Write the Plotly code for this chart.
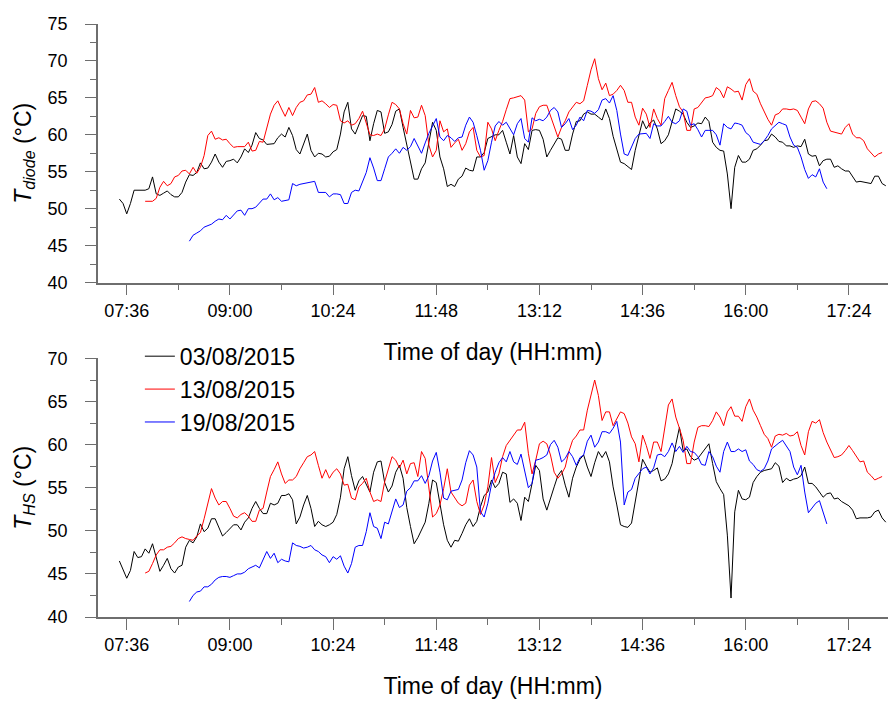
import pandas as pd
import plotly.graph_objects as go

# ---------------- data ----------------
series_names = ["03/08/2015", "13/08/2015", "19/08/2015"]
series_colors = ["#000000", "#ff0000", "#0000ff"]
series_starts = ["07:30", "07:51", "08:27"]   # first logged sample (time of day)
sample_step = "3min"
ref_day = "2015-08-03"                        # common day used for the time-of-day axis
time_tick_labels = ["07:36", "09:00", "10:24", "11:48", "13:12", "14:36", "16:00", "17:24"]

diode_0308 = [
    51.3, 50.7, 49.3, 50.7, 52.5, 52.5, 52.4, 52.5, 52.7, 54.3,
    52.0, 51.8, 52.1, 52.4, 51.9, 51.6, 51.6, 52.2, 53.6, 54.6,
    54.5, 54.9, 56.2, 55.4, 55.5, 56.3, 57.4, 56.3, 55.6, 56.4,
    56.5, 56.7, 56.2, 57.0, 58.1, 57.6, 58.6, 60.3, 59.5, 59.3,
    58.7, 58.7, 58.8, 59.6, 60.1, 59.7, 61.0,
    59.9, 58.0, 57.4, 58.8, 60.1, 57.9, 57.0, 57.5, 57.4, 57.0,
    57.1, 57.7, 58.0, 60.1, 63.1, 64.4, 60.8, 60.1, 61.4, 62.6,
    62.5, 59.2, 61.5, 63.3, 63.1, 60.2, 60.4, 61.4, 63.2, 63.5,
    61.0, 58.6, 56.3, 54.0, 54.0, 55.4, 56.2, 58.7, 61.7, 60.6,
    57.0, 55.4, 53.0, 53.3, 53.0, 54.0, 54.4, 55.5, 55.2, 55.1,
    57.0, 57.0, 57.6, 59.5, 59.8,
    60.0, 60.0, 60.6, 59.0, 57.4, 59.9, 57.0, 56.1, 58.8, 58.0,
    60.6, 60.7, 60.6, 59.4, 57.0, 57.9, 58.8, 59.6, 59.4, 57.9,
    57.9, 60.1, 61.8, 61.9, 62.8, 63.1, 62.8, 62.8, 62.4, 62.0,
    63.5, 62.2, 59.8, 57.9, 56.3, 56.1, 55.7, 55.3, 57.9, 59.9,
    61.9, 60.8, 61.6, 62.0, 60.8, 58.8, 59.2, 60.0, 61.6, 63.5,
    63.2, 62.8, 61.7, 61.0, 61.2, 61.6,
    61.5, 62.4, 61.8, 59.0, 58.3, 57.9, 57.8, 54.7, 50.0, 55.6,
    57.2, 56.3, 56.3, 56.7, 57.9, 58.1, 58.6, 59.2, 59.3, 60.1,
    59.7, 59.1, 59.0, 58.5, 58.5, 58.3, 58.5, 58.4, 59.4, 57.4,
    57.1, 57.2, 55.8, 56.5, 56.7, 56.7, 55.6, 55.8, 55.4, 55.1,
    55.1, 54.4, 53.6, 53.7, 53.6, 53.4, 53.4, 54.4, 54.4, 53.4,
    53.1,
]
diode_1308 = [
    51.0, 51.0, 51.0, 51.4, 52.9, 53.7, 53.1, 53.4, 54.3, 54.5,
    55.1, 55.2, 54.7, 55.6, 54.8, 55.6, 57.2, 59.9, 60.5, 59.4,
    59.6, 59.3, 59.4, 58.8, 58.3, 58.4, 58.4, 58.4, 59.0, 57.8,
    57.9, 59.1, 59.0, 61.0, 62.8, 64.0, 64.6, 63.5, 62.5, 63.7,
    62.6, 63.7, 64.4, 64.6, 65.4, 65.5, 66.4, 64.4, 64.6, 64.2,
    63.7, 64.1, 64.0, 61.9, 61.6, 61.9, 61.3, 61.5, 62.2, 63.2,
    61.5, 60.0, 59.9, 60.1, 59.9, 60.8, 62.7, 64.4, 64.1, 63.5,
    61.5, 60.1, 63.3, 62.3, 62.4, 64.0, 62.6, 58.6, 57.0, 57.9,
    61.9, 60.4, 60.8, 58.3, 58.9, 59.4, 57.9, 58.8, 60.4, 61.0,
    57.9, 57.0, 57.2, 61.7, 60.8,
    59.2, 60.6, 61.8, 63.4, 64.9, 65.0, 65.2, 65.3, 64.7, 60.4,
    60.8, 62.9, 63.8, 64.0, 64.0, 62.5, 61.3, 59.7, 61.0, 61.9,
    63.1, 63.7, 64.4, 64.2, 64.6, 66.7, 68.8, 70.3, 67.6, 66.1,
    67.0, 65.3, 65.5, 66.0, 66.7, 66.0, 64.4, 64.4, 62.4, 61.3,
    63.6, 62.8, 61.0, 63.5, 62.2, 61.3, 64.9, 66.0, 67.1, 65.3,
    63.8, 63.1, 60.6, 60.6, 63.5, 63.7,
    64.4, 65.0, 65.1, 65.3, 66.4, 66.0, 65.0, 66.5, 66.2, 65.8,
    65.9, 64.7, 66.8, 67.6, 65.9, 65.5, 64.2, 63.1, 62.1, 61.3,
    62.7, 62.9, 63.5, 63.5, 63.4, 63.5, 63.3, 62.4, 61.5, 63.5,
    64.5, 64.6, 64.2, 63.6, 61.7, 60.5, 60.4, 60.2, 60.1, 61.0,
    61.5, 60.1, 59.6, 59.6, 59.2, 58.1, 57.5, 57.0, 57.4, 57.6,
]
diode_1908 = [
    45.6, 46.4, 46.7, 47.0, 47.5, 47.7, 47.9, 48.3, 48.6, 48.5,
    49.1, 48.6, 49.1, 49.7, 49.8, 49.1, 50.0, 50.0, 50.2, 50.7,
    51.3, 51.3, 52.0, 51.2, 51.5, 51.0, 51.1, 51.2,
    53.4, 53.1, 53.3, 53.4, 53.4, 53.5, 53.7, 52.2, 52.2, 52.2,
    51.6, 52.0, 52.0, 51.9, 50.7, 50.7, 52.2, 52.5, 52.4, 53.6,
    54.9, 56.9, 55.5, 53.8, 53.8, 55.4, 57.0, 57.5, 58.1, 57.5,
    58.3, 57.9, 58.4, 59.5, 58.4, 57.5, 58.9, 60.2, 61.2, 62.2,
    59.7, 59.2, 59.9, 59.6, 59.1, 59.6, 59.7, 61.3, 62.4, 61.7,
    59.9, 57.9, 55.2, 56.5, 59.0,
    61.2, 61.8, 61.3, 61.7, 60.8, 60.0, 61.5, 62.2, 59.5, 59.0,
    62.3, 61.9, 62.1, 61.9, 62.4, 63.3, 63.7, 63.1, 61.0, 61.5,
    62.2, 60.7, 61.3, 62.4, 61.9, 63.3, 63.2, 62.9, 63.4, 64.7,
    64.9, 64.3, 65.3, 63.3, 60.1, 57.4, 57.2, 58.3, 59.5, 60.1,
    60.1, 60.2, 59.5, 61.5, 61.2, 61.2, 61.8, 62.5, 61.7, 61.5,
    61.9, 63.5, 63.2, 61.3, 61.5, 60.7,
    59.7, 60.6, 60.6, 60.6, 60.0, 58.6, 61.5, 61.0, 60.8, 61.6,
    61.5, 61.3, 60.3, 59.9, 59.0, 58.9, 58.7, 59.2, 59.9, 60.8,
    61.3, 61.7, 61.5, 61.3, 59.7, 58.6, 58.3, 57.0, 55.3, 54.1,
    54.6, 54.3, 55.4, 53.6, 52.7,
]

hs_0308 = [
    46.5, 45.6, 44.5, 45.4, 47.6, 46.9, 47.0, 47.9, 47.4, 48.5,
    46.8, 45.3, 46.0, 46.8, 45.6, 45.1, 45.8, 46.0, 48.1, 48.9,
    48.6, 49.3, 50.8, 49.9, 50.3, 51.4, 51.4, 50.5, 49.4, 49.8,
    50.3, 50.7, 50.7, 50.1, 51.0, 51.5, 52.6, 53.4, 52.6, 52.0,
    52.0, 53.2, 53.0, 53.2, 54.1, 54.1, 54.3,
    53.6, 50.8, 51.6, 53.0, 54.1, 52.6, 50.5, 51.1, 50.7, 50.5,
    50.7, 51.0, 51.9, 53.9, 57.2, 58.6, 56.4, 54.7, 55.8, 56.3,
    55.4, 54.5, 56.8, 58.0, 58.1, 55.6, 54.5, 55.2, 56.8, 57.6,
    56.1, 52.7, 50.5, 48.5, 49.2, 50.2, 51.0, 53.2, 55.9, 55.6,
    53.0, 50.7, 48.9, 48.1, 48.9, 48.8, 49.7, 50.7, 51.4, 50.5,
    51.1, 52.8, 54.1, 54.5, 55.9,
    55.0, 55.5, 56.8, 56.6, 53.3, 53.7, 53.2, 51.2, 53.9, 53.4,
    55.7, 57.6, 57.0, 53.7, 52.4, 53.9, 55.1, 56.4, 57.0, 55.3,
    53.9, 56.1, 57.4, 58.3, 58.8, 57.4, 56.3, 57.9, 59.2, 58.5,
    59.2, 58.0, 55.1, 53.0, 50.7, 50.5, 50.4, 50.9, 53.4, 56.3,
    58.3, 57.5, 56.8, 57.0, 57.3, 55.8, 56.0, 56.6, 57.8, 60.0,
    62.0, 59.3, 59.5, 58.6, 58.2, 58.4,
    59.0, 59.5, 60.1, 57.8, 55.7, 54.9, 54.2, 49.5, 42.2, 52.2,
    54.7, 53.7, 53.6, 53.9, 55.6, 56.3, 56.8, 57.0, 57.1, 57.2,
    57.9, 57.5, 55.6, 56.1, 55.8, 56.0, 56.1, 56.4, 57.4, 55.5,
    55.5, 55.1, 54.5, 53.9, 54.3, 54.4, 53.7, 53.8, 53.4, 53.1,
    52.9, 52.4, 51.4, 51.5, 51.5, 51.5, 51.6, 52.2, 52.4, 51.5,
    51.0,
]
hs_1308 = [
    45.1, 45.3, 46.2, 47.2, 47.8, 47.8, 48.1, 48.2, 48.6, 49.1,
    49.3, 49.1, 49.0, 48.9, 49.4, 49.8, 51.4, 53.0, 54.9, 53.8,
    53.0, 53.4, 53.4, 52.6, 51.7, 51.5, 51.9, 52.1, 51.7, 51.1,
    51.1, 52.4, 52.6, 54.5, 56.3, 57.1, 58.0, 56.6, 55.5, 55.9,
    55.9, 56.3, 57.2, 57.9, 58.6, 58.8, 59.2, 57.6, 56.1, 57.1,
    56.1, 56.8, 57.2, 56.6, 55.3, 55.4, 53.8, 53.6, 55.1, 55.5,
    56.1, 54.5, 53.4, 53.6, 53.4, 55.7, 57.2, 58.6, 58.2, 57.3,
    58.2, 56.6, 57.8, 57.9, 56.3, 59.2, 58.4, 54.7, 51.6, 52.0,
    53.0, 54.9, 57.2, 54.5, 53.9, 53.2, 52.9, 53.2, 55.3, 55.9,
    53.4, 51.9, 53.0, 55.1, 58.5,
    55.6, 56.6, 58.6, 59.9, 60.5, 61.0, 61.7, 61.7, 62.6, 59.0,
    56.6, 58.2, 60.1, 60.4, 60.1, 58.8, 56.8, 56.1, 56.6, 57.4,
    59.2, 60.5, 61.0, 61.7, 61.7, 64.0, 65.9, 67.5, 65.7, 62.8,
    63.8, 63.8, 62.2, 63.0, 63.8, 63.6, 62.5, 60.9, 60.1, 58.0,
    61.1, 59.9, 58.4, 60.3, 60.3, 59.2, 61.9, 64.6, 65.3, 63.2,
    61.9, 60.5, 57.8, 57.8, 60.3, 62.0,
    62.2, 62.2, 62.1, 62.8, 63.8, 63.2, 62.2, 63.8, 64.4, 63.3,
    63.3, 62.7, 64.4, 65.3, 64.0, 63.2, 62.2, 61.2, 60.7, 59.7,
    61.0, 61.2, 61.1, 61.3, 61.0, 61.1, 61.5, 59.9, 58.8, 61.5,
    62.7, 62.5, 62.9, 61.4, 60.3, 59.3, 58.5, 58.6, 58.8, 59.3,
    59.9, 59.3, 58.7, 58.0, 58.1, 56.8, 56.4, 55.9, 56.1, 56.3,
]
hs_1908 = [
    41.8, 42.5, 42.9, 43.0, 43.5, 43.5, 43.8, 44.3, 44.6, 44.7,
    44.7, 44.6, 44.8, 45.0, 45.0, 45.2, 45.6, 45.8, 46.0, 45.7,
    46.6, 47.6, 46.8, 47.4, 46.3, 46.7, 46.5, 46.4,
    48.6, 48.3, 48.2, 48.0, 48.1, 48.3, 47.8, 47.6, 47.2, 47.0,
    46.3, 47.0, 46.7, 47.1, 45.9, 45.1, 46.2, 48.1, 48.3, 48.3,
    49.9, 52.1, 50.5, 50.3, 49.1, 51.0, 50.8, 52.4, 53.7, 52.7,
    53.0, 54.6, 55.0, 55.8, 55.8, 56.4, 55.5, 56.4, 58.1, 59.1,
    56.8, 53.8, 53.6, 54.6, 54.7, 54.8, 55.9, 57.9, 59.3, 58.8,
    57.4, 52.2, 51.6, 53.2, 55.4,
    56.8, 57.9, 58.5, 58.0, 59.2, 58.0, 57.7, 58.9, 56.8, 55.0,
    55.5, 58.2, 58.3, 58.5, 58.8, 60.0, 60.5, 59.7, 58.0, 58.4,
    59.2, 58.6, 57.6, 58.5, 58.8, 60.4, 61.1, 59.7, 60.3, 61.5,
    61.5, 61.3, 61.9, 62.7, 60.3, 53.0, 54.5, 54.8, 56.1, 56.6,
    57.2, 57.4, 56.6, 57.3, 58.8, 58.9, 58.6, 59.2, 60.2, 59.2,
    59.8, 59.1, 59.8, 59.2, 59.1, 58.6,
    57.7, 57.6, 59.2, 58.6, 57.5, 56.8, 59.2, 60.3, 59.2, 59.2,
    59.5, 59.2, 59.4, 58.1, 57.7, 57.1, 56.9, 57.2, 58.1, 59.5,
    59.9, 60.2, 60.5, 59.9, 59.2, 57.4, 56.5, 57.6, 54.5, 52.1,
    52.7, 53.2, 53.5, 52.0, 50.8,
]

diode_series = [diode_0308, diode_1308, diode_1908]
hs_series = [hs_0308, hs_1308, hs_1908]


def sample_times(start, n):
    return pd.date_range(f"{ref_day} {start}", periods=n, freq=sample_step)


FONT = "Arial, 'Liberation Sans', sans-serif"
AXIS_GREY = "#6e6e6e"

fig = go.Figure()
for name, color, start, vals in zip(series_names, series_colors, series_starts, diode_series):
    fig.add_trace(go.Scatter(x=sample_times(start, len(vals)), y=vals, mode="lines",
                             name=name, line=dict(color=color, width=1),
                             xaxis="x", yaxis="y", showlegend=False))
for name, color, start, vals in zip(series_names, series_colors, series_starts, hs_series):
    fig.add_trace(go.Scatter(x=sample_times(start, len(vals)), y=vals, mode="lines",
                             name=name, line=dict(color=color, width=1),
                             xaxis="x2", yaxis="y2", showlegend=True))

tick_vals = [f"{ref_day} {t}" for t in time_tick_labels]
x_range = [f"{ref_day} 07:12:36", f"{ref_day} 17:55:48"]

xcommon = dict(
    type="date", range=x_range, tickvals=tick_vals, ticktext=time_tick_labels,
    ticks="outside", ticklen=11, tickwidth=1, tickcolor=AXIS_GREY,
    minor=dict(ticks="outside", ticklen=6, tickwidth=1, tickcolor=AXIS_GREY,
               dtick=42 * 60 * 1000, tick0=f"{ref_day} 07:36"),
    showline=True, linecolor=AXIS_GREY, linewidth=1.5, showgrid=False, zeroline=False,
    automargin=False,
    tickfont=dict(family=FONT, size=18, color="black"),
    title=dict(text="Time of day (HH:mm)", font=dict(family=FONT, size=23, color="black"),
               standoff=24),
)
ycommon = dict(
    dtick=5, ticks="outside", ticklen=11, tickwidth=1, tickcolor=AXIS_GREY,
    minor=dict(ticks="outside", ticklen=6, tickwidth=1, tickcolor=AXIS_GREY, dtick=2.5),
    showline=True, linecolor=AXIS_GREY, linewidth=1.5, showgrid=False, zeroline=False,
    automargin=False,
    tickfont=dict(family=FONT, size=18, color="black"),
    ticklabelstandoff=14,
)

fig.update_layout(
    width=888, height=701,
    margin=dict(l=98, r=0, t=24, b=84),
    paper_bgcolor="white", plot_bgcolor="white",
    font=dict(family=FONT, color="black"),
    xaxis=dict(anchor="y", domain=[0, 1], **xcommon),
    xaxis2=dict(anchor="y2", domain=[0, 1], **xcommon),
    yaxis=dict(anchor="x", domain=[0.564, 1.0], range=[40, 75], tick0=40,
               title=dict(text="<i>T</i><sub><i>diode</i></sub> (°C)",
                          font=dict(family=FONT, size=23, color="black"), standoff=10),
               **ycommon),
    yaxis2=dict(anchor="x2", domain=[0, 0.436], range=[40, 70], tick0=40,
                title=dict(text="<i>T</i><sub><i>HS</i></sub> (°C)",
                           font=dict(family=FONT, size=23, color="black"), standoff=10),
                **ycommon),
    legend=dict(x=0.053, y=0.476, xanchor="left", yanchor="top",
                font=dict(family=FONT, size=23, color="black"),
                bgcolor="rgba(0,0,0,0)", tracegroupgap=0, itemwidth=30),
)

# remove the browser's default 8px page margin so the 888x701 figure fills the window
fig.write_html("out.html", config={"displayModeBar": False},
               post_script="document.body.style.margin = '0px';")
